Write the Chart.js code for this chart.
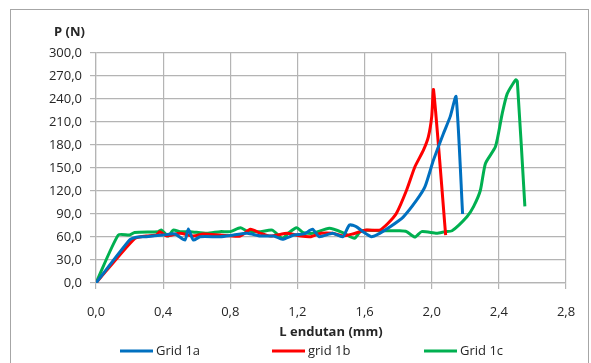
<!DOCTYPE html>
<html>
<head>
<meta charset="utf-8">
<script src="https://cdn.jsdelivr.net/npm/chart.js@4"></script>
<style>
  body { margin: 0; background: #fff; }
  #wrap { width: 591px; height: 363px; }
</style>
</head>
<body>
<div id="wrap"><canvas id="myCanvas" width="591" height="363"></canvas></div>
<script>
// values
const grid1aX = [0, 0.20, 0.24, 0.30, 0.40, 0.47, 0.53, 0.55, 0.58, 0.62, 0.74, 0.82, 0.90, 0.98, 1.06, 1.11, 1.18, 1.24, 1.29, 1.33, 1.41, 1.47, 1.51, 1.55, 1.59, 1.64, 1.69, 1.75, 1.83, 1.91, 1.96, 2.01, 2.07, 2.11, 2.145, 2.184];
const grid1aY = [0, 56, 59.6, 60.4, 62.6, 64, 56, 70.4, 56, 60.4, 60.4, 62.6, 64.8, 61.3, 61.3, 57, 62.6, 64, 70, 60.4, 64.8, 60.4, 75.6, 73.5, 67, 60.4, 64.8, 73, 86, 108, 125.6, 160, 195, 217, 243, 90];

const grid1bX = [0, 0.23, 0.30, 0.36, 0.38, 0.42, 0.50, 0.58, 0.64, 0.74, 0.86, 0.92, 0.98, 1.04, 1.14, 1.22, 1.28, 1.34, 1.41, 1.47, 1.53, 1.61, 1.69, 1.74, 1.79, 1.85, 1.90, 1.95, 1.98, 2.00, 2.011, 2.083];
const grid1bY = [0, 58, 61.3, 62.6, 67, 61.3, 64.8, 61.3, 64, 62.6, 61.3, 70, 64.8, 61.3, 64.8, 61.3, 60.4, 64.8, 64.8, 61.3, 64, 69, 69, 78, 91, 121, 151.6, 173, 190.7, 217, 252, 62.6];

const grid1cX = [0, 0.133, 0.20, 0.23, 0.37, 0.39, 0.43, 0.46, 0.50, 0.56, 0.66, 0.74, 0.80, 0.86, 0.90, 0.98, 1.05, 1.11, 1.145, 1.195, 1.235, 1.29, 1.39, 1.47, 1.54, 1.58, 1.69, 1.81, 1.85, 1.90, 1.94, 2.03, 2.08, 2.12, 2.21, 2.25, 2.29, 2.32, 2.38, 2.42, 2.45, 2.50, 2.51, 2.555];
const grid1cY = [0, 62.6, 62.6, 66, 67, 69, 61.3, 69, 67, 67, 64.8, 67, 67, 72, 68, 67, 69, 58, 64.8, 72, 65.7, 64.8, 71.3, 65.7, 58.3, 68.3, 68.3, 68, 67, 60, 67, 65, 67, 68, 86.5, 100, 121, 156, 178, 221, 247, 265, 263, 100];

const seriesNames = ["Grid 1a", "grid 1b", "Grid 1c"];
const seriesColors = ["#0070C0", "#FF0000", "#00B050"];
const xTicks = [0, 0.4, 0.8, 1.2, 1.6, 2.0, 2.4, 2.8];
const yTicks = [0, 30, 60, 90, 120, 150, 180, 210, 240, 270, 300];
const xTitle = "L endutan (mm)";
const yTitle = "P (N)";

const toPoints = (xs, ys) => xs.map((x, i) => ({ x: x, y: ys[i] }));
const comma = (v) => Number(v).toFixed(1).replace(".", ",");

const FONT = "'Open Sans', 'DejaVu Sans', sans-serif";
const TEXT = "#262626";
const GRID = "#b4b4b4";

// frame, axis titles and legend drawn by hand like the excel original
const decorations = {
  id: "decorations",
  afterDraw(chart) {
    const ctx = chart.ctx;
    const area = chart.chartArea;
    ctx.save();
    ctx.strokeStyle = "#a6a6a6";
    ctx.lineWidth = 1;
    ctx.strokeRect(10.5, 9.5, 578, 420);

    ctx.fillStyle = TEXT;
    ctx.font = "bold 13px " + FONT;
    ctx.textBaseline = "middle";
    ctx.textAlign = "right";
    ctx.fillText(yTitle, 85, 32);
    ctx.textAlign = "center";
    ctx.fillText(xTitle, (area.left + area.right) / 2, 332);

    ctx.font = "13px " + FONT;
    ctx.textAlign = "left";
    const starts = [120, 272, 424];
    chart.data.datasets.forEach((ds, i) => {
      const x0 = starts[i];
      ctx.strokeStyle = ds.borderColor;
      ctx.lineWidth = 3;
      ctx.beginPath();
      ctx.moveTo(x0, 351);
      ctx.lineTo(x0 + 33, 351);
      ctx.stroke();
      ctx.fillStyle = TEXT;
      ctx.fillText(ds.label, x0 + 36, 351);
    });
    ctx.restore();
  },
};

const chart = new Chart(document.getElementById("myCanvas"), {
  type: "scatter",
  data: {
    datasets: [
      { label: seriesNames[0], data: toPoints(grid1aX, grid1aY) },
      { label: seriesNames[1], data: toPoints(grid1bX, grid1bY) },
      { label: seriesNames[2], data: toPoints(grid1cX, grid1cY) },
    ].map((ds, i) => ({
      ...ds,
      showLine: true,
      borderColor: seriesColors[i],
      backgroundColor: seriesColors[i],
      borderWidth: 3,
      pointRadius: 0,
      tension: 0.2,
      fill: false,
    })),
  },
  options: {
    responsive: false,
    animation: false,
    layout: { padding: { top: 53, right: 25, left: 0, bottom: 0 } },
    plugins: {
      legend: { display: false },
      tooltip: { enabled: false },
    },
    scales: {
      x: {
        type: "linear",
        min: 0,
        max: 2.8,
        afterFit: (s) => { s.height = 80; },
        afterBuildTicks: (s) => { s.ticks = xTicks.map((v) => ({ value: v })); },
        grid: { color: GRID, lineWidth: 1.2, tickLength: 6, tickColor: GRID },
        border: { color: GRID, width: 1.2 },
        ticks: {
          padding: 15,
          color: TEXT,
          font: { family: FONT, size: 13 },
          callback: (v) => comma(v),
        },
      },
      y: {
        min: 0,
        max: 300,
        afterFit: (s) => { s.width = 96; },
        afterBuildTicks: (s) => { s.ticks = yTicks.map((v) => ({ value: v })); },
        grid: { color: GRID, lineWidth: 1.2, tickLength: 6, tickColor: GRID },
        border: { color: GRID, width: 1.2 },
        ticks: {
          padding: 8,
          color: TEXT,
          font: { family: FONT, size: 13 },
          callback: (v) => comma(v),
        },
      },
    },
  },
  plugins: [decorations],
});
</script>
</body>
</html>
